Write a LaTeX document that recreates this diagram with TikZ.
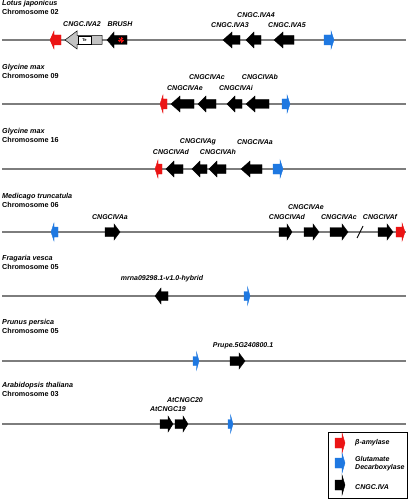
\documentclass[tikz,border=0pt]{standalone}
\usepackage{fontspec}
\setmainfont{Liberation Sans}
\usetikzlibrary{shapes.geometric}
\definecolor{chrgray}{RGB}{125,125,125}
\definecolor{gred}{RGB}{235,20,20}
\definecolor{gblue}{RGB}{30,120,225}
\definecolor{ggray}{RGB}{195,195,195}
% left-pointing gene: tip x, tail x, y, head length, body half, head half, style
\newcommand\genel[7]{\filldraw[#7] (#1,#3) -- (#1+#4,#3-#6) -- (#1+#4,#3-#5) -- (#2,#3-#5) -- (#2,#3+#5) -- (#1+#4,#3+#5) -- (#1+#4,#3+#6) -- cycle;}
% right-pointing gene: tail x, tip x, y, head length, body half, head half, style
\newcommand\gener[7]{\filldraw[#7] (#2,#3) -- (#2-#4,#3-#6) -- (#2-#4,#3-#5) -- (#1,#3-#5) -- (#1,#3+#5) -- (#2-#4,#3+#5) -- (#2-#4,#3+#6) -- cycle;}
\tikzset{
  chrline/.style={draw=chrgray,line width=1.6pt},
  blackgene/.style={fill=black,draw=black,line width=0.4pt},
  redgene/.style={fill=gred,draw=gred,line width=0.4pt},
  bluegene/.style={fill=gblue,draw=gblue,line width=0.4pt},
  graygene/.style={fill=ggray,draw=black,line width=0.5pt},
  glabel/.style={font=\fontsize{7}{8}\selectfont\bfseries\itshape,inner sep=0pt},
  species/.style={font=\fontsize{7.2}{8}\selectfont\bfseries\itshape,inner sep=0pt,anchor=west},
  chrom/.style={font=\fontsize{7.2}{8}\selectfont\bfseries,inner sep=0pt,anchor=west},
  leglabel/.style={font=\fontsize{7}{8}\selectfont\bfseries\itshape,inner sep=0pt,anchor=west},
}
\begin{document}
\begin{tikzpicture}[x=1pt,y=-1pt]
\useasboundingbox (0,0) rectangle (408,500);

% ---------- Lotus japonicus ----------
\node[species] (sp1) at (2,4) {Lotus japonicus};
\node[chrom] (ch1) at (2,12) {Chromosome 02};
\draw[chrline] (2,40) -- (406,40);
\genel{50}{61}{40}{4}{5}{9}{redgene}
\genel{65}{102}{40}{12}{4.5}{9}{graygene}
\node[draw=black,fill=white,line width=0.4pt,minimum width=13pt,minimum height=8pt,inner sep=0pt,font=\fontsize{4}{4}\selectfont\bfseries] (te) at (84.5,40) {Te};
\genel{107}{127}{40}{7}{4.5}{8}{blackgene}
\foreach \a in {0,45,90,135} \draw[gred,line width=0.8pt] (121,40) +(\a:3) -- +(\a+180:3);
\fill[gred] (121,40) circle (1.3);
\node[glabel] (l1a) at (82,24) {CNGC.IVA2};
\node[glabel] (l1b) at (120,24) {BRUSH};
\genel{223}{240}{40}{9}{4.5}{8}{blackgene}
\genel{246}{261}{40}{8}{4.5}{8}{blackgene}
\genel{274}{294}{40}{9}{4.5}{8}{blackgene}
\gener{324}{334}{40}{3}{5}{9}{bluegene}
\node[glabel] (l1c) at (256,15) {CNGC.IVA4};
\node[glabel] (l1d) at (230,25) {CNGC.IVA3};
\node[glabel] (l1e) at (287,25) {CNGC.IVA5};

% ---------- Glycine max 09 ----------
\node[species] (sp2) at (2,68) {Glycine max};
\node[chrom] (ch2) at (2,76) {Chromosome 09};
\draw[chrline] (2,104) -- (406,104);
\genel{160}{167}{104}{3}{5}{9}{redgene}
\genel{171}{194}{104}{9}{4.5}{8}{blackgene}
\genel{198}{216}{104}{8}{4.5}{8}{blackgene}
\genel{227}{242}{104}{8}{4.5}{8}{blackgene}
\genel{246}{269}{104}{9}{4.5}{8}{blackgene}
\gener{282}{290}{104}{3}{5}{9}{bluegene}
\node[glabel] (l2a) at (207,77) {CNGCIVAc};
\node[glabel] (l2b) at (260,77) {CNGCIVAb};
\node[glabel] (l2c) at (185,88) {CNGCIVAe};
\node[glabel] (l2d) at (236,88) {CNGCIVAi};

% ---------- Glycine max 16 ----------
\node[species] (sp3) at (2,132) {Glycine max};
\node[chrom] (ch3) at (2,140) {Chromosome 16};
\draw[chrline] (2,169) -- (406,169);
\genel{155}{162}{169}{3}{5}{9}{redgene}
\genel{166}{183}{169}{8}{4.5}{8}{blackgene}
\genel{192}{207}{169}{8}{4.5}{8}{blackgene}
\genel{209}{226}{169}{8}{4.5}{8}{blackgene}
\genel{241}{262}{169}{9}{4.5}{8}{blackgene}
\gener{273}{283}{169}{3}{5}{9}{bluegene}
\node[glabel] (l3a) at (198,142) {CNGCIVAg};
\node[glabel] (l3b) at (255,142) {CNGCIVAa};
\node[glabel] (l3c) at (171,152) {CNGCIVAd};
\node[glabel] (l3d) at (218,152) {CNGCIVAh};

% ---------- Medicago truncatula 06 ----------
\node[species] (sp4) at (2,197) {Medicago truncatula};
\node[chrom] (ch4) at (2,205) {Chromosome 06};
\draw[chrline] (2,232) -- (406,232);
\genel{51}{58}{232}{3}{5}{9}{bluegene}
\gener{105}{120}{232}{6}{4.5}{8}{blackgene}
\gener{279}{292}{232}{5}{4.5}{8}{blackgene}
\gener{304}{319}{232}{6}{4.5}{8}{blackgene}
\gener{330}{348}{232}{6}{4.5}{8}{blackgene}
\draw[black,line width=0.9pt] (357,238) -- (363,226);
\gener{378}{393}{232}{6}{4.5}{8}{blackgene}
\gener{396}{405}{232}{3}{5}{9}{redgene}
\node[glabel] (l4a) at (110,217) {CNGCIVAa};
\node[glabel] (l4b) at (306,207) {CNGCIVAe};
\node[glabel] (l4c) at (287,217) {CNGCIVAd};
\node[glabel] (l4d) at (339,217) {CNGCIVAc};
\node[glabel] (l4e) at (380,217) {CNGCIVAf};

% ---------- Fragaria vesca 05 ----------
\node[species] (sp5) at (2,259) {Fragaria vesca};
\node[chrom] (ch5) at (2,267) {Chromosome 05};
\draw[chrline] (2,296) -- (406,296);
\genel{155}{168}{296}{6}{4.5}{8}{blackgene}
\gener{244}{250}{296}{2.5}{4.5}{9}{bluegene}
\node[glabel] (l5a) at (162,279) {mrna09298.1-v1.0-hybrid};

% ---------- Prunus persica 05 ----------
\node[species] (sp6) at (2,323) {Prunus persica};
\node[chrom] (ch6) at (2,331) {Chromosome 05};
\draw[chrline] (2,361) -- (406,361);
\gener{193}{199}{361}{2.5}{4.5}{9}{bluegene}
\gener{230}{245}{361}{6}{4.5}{8}{blackgene}
\node[glabel] (l6a) at (243,346) {Prupe.5G240800.1};

% ---------- Arabidopsis thaliana 03 ----------
\node[species] (sp7) at (2,386) {Arabidopsis thaliana};
\node[chrom] (ch7) at (2,394) {Chromosome 03};
\draw[chrline] (2,424) -- (406,424);
\gener{160}{173}{424}{5}{4.5}{8}{blackgene}
\gener{175}{188}{424}{5}{4.5}{8}{blackgene}
\gener{228}{233}{424}{2.5}{4.5}{9}{bluegene}
\node[glabel] (l7a) at (185,400) {AtCNGC20};
\node[glabel] (l7b) at (168,409) {AtCNGC19};

% ---------- Legend ----------
\draw[black,line width=0.8pt] (328,432) rectangle (407,498);
\gener{335}{345}{443}{3}{5}{10}{redgene}
\gener{335}{345}{463}{3}{5}{10}{bluegene}
\gener{335}{345}{485}{3}{5}{10}{blackgene}
\node[leglabel] (lg1) at (355,443) {β-amylase};
\node[leglabel] (lg2) at (355,459) {Glutamate};
\node[leglabel] (lg3) at (355,468) {Decarboxylase};
\node[leglabel] (lg4) at (355,487) {CNGC.IVA};
\end{tikzpicture}
\end{document}
